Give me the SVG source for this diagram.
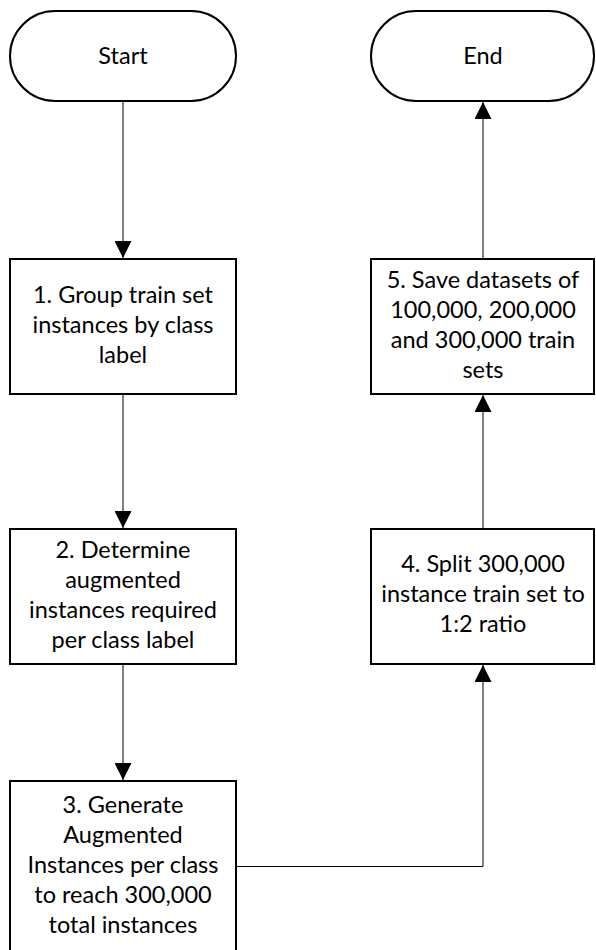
<svg xmlns="http://www.w3.org/2000/svg" width="596" height="950" viewBox="0 0 596 950">
  <style>
    .shape { fill: #ffffff; stroke: #000000; stroke-width: 2; }
    .label { font-family: Lato, "Open Sans", sans-serif; font-size: 23.5px; fill: #000000; text-anchor: middle; }
    .link { fill: none; stroke: #000000; stroke-width: 1; marker-end: url(#arrow); }
  </style>
  <defs>
    <marker id="arrow" markerUnits="userSpaceOnUse" viewBox="0 0 17 17" refX="17" refY="8.5" markerWidth="17" markerHeight="17" orient="auto">
      <path d="M0,0 L17,8.5 L0,17 Z" fill="#000000"/>
    </marker>
  </defs>
  <rect width="596" height="950" fill="#ffffff"/>

  <!-- connectors -->
  <g id="connectors">
    <path class="link" d="M123,101 L123,258"/>
    <path class="link" d="M123,394 L123,528"/>
    <path class="link" d="M123,664 L123,780"/>
    <path class="link" d="M236,866.5 L483,866.5 L483,665"/>
    <path class="link" d="M483,529 L483,395"/>
    <path class="link" d="M483,259 L483,102"/>
  </g>

  <g id="start">
    <rect class="shape" x="10" y="11" width="226" height="90" rx="45" ry="45"/>
    <text class="label" x="123" y="64">Start</text>
  </g>

  <g id="end">
    <rect class="shape" x="371" y="11" width="223" height="90" rx="45" ry="45"/>
    <text class="label" x="483" y="64">End</text>
  </g>

  <g id="step1">
    <rect class="shape" x="10" y="259" width="226" height="135"/>
    <text class="label" x="123" y="303">1. Group train set</text>
    <text class="label" x="123" y="333">instances by class</text>
    <text class="label" x="123" y="363">label</text>
  </g>

  <g id="step2">
    <rect class="shape" x="10" y="529" width="226" height="135"/>
    <text class="label" x="123" y="558">2. Determine</text>
    <text class="label" x="123" y="588">augmented</text>
    <text class="label" x="123" y="618">instances required</text>
    <text class="label" x="123" y="648">per class label</text>
  </g>

  <g id="step3">
    <rect class="shape" x="10" y="781" width="226" height="171"/>
    <text class="label" x="123" y="813">3. Generate</text>
    <text class="label" x="123" y="843">Augmented</text>
    <text class="label" x="123" y="873">Instances per class</text>
    <text class="label" x="123" y="903">to reach 300,000</text>
    <text class="label" x="123" y="933">total instances</text>
  </g>

  <g id="step4">
    <rect class="shape" x="371" y="529" width="223" height="135"/>
    <text class="label" x="483" y="572">4. Split 300,000</text>
    <text class="label" x="483" y="602">instance train set to</text>
    <text class="label" x="483" y="632">1:2 ratio</text>
  </g>

  <g id="step5">
    <rect class="shape" x="371" y="259" width="223" height="135"/>
    <text class="label" x="483" y="288">5. Save datasets of</text>
    <text class="label" x="483" y="318">100,000, 200,000</text>
    <text class="label" x="483" y="348">and 300,000 train</text>
    <text class="label" x="483" y="378">sets</text>
  </g>
</svg>
